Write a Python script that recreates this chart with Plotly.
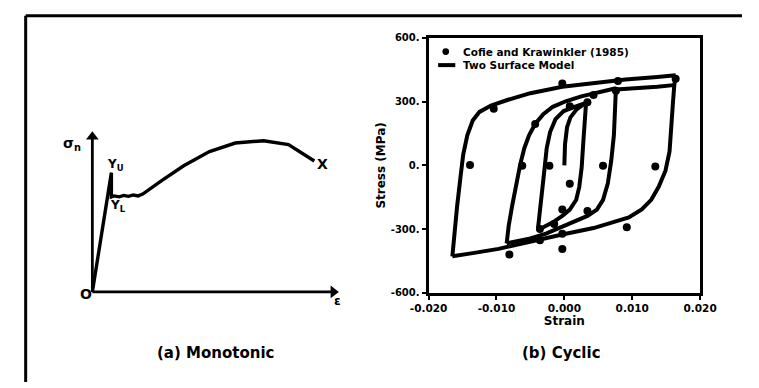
import plotly.graph_objects as go

W, H = 759, 388
FONT = "DejaVu Sans"

# ---------------- (a) Monotonic schematic (normalised strain / stress) ----------------
mono_strain = [0.0, 0.079, 0.079, 0.091, 0.111, 0.130, 0.150, 0.170, 0.190, 0.209,
               0.289, 0.379, 0.486, 0.593, 0.711, 0.814, 0.921]
mono_stress = [0.0, 0.769, 0.613, 0.619, 0.613, 0.622, 0.616, 0.625, 0.619, 0.631,
               0.719, 0.813, 0.905, 0.960, 0.975, 0.950, 0.844]
mono_labels = ["σ<sub>n</sub>", "Y<sub>U</sub>", "Y<sub>L</sub>", "O", "X", "ε"]

# ---------------- (b) Cyclic: Two Surface Model branches ----------------
init_strain = [0.0, 0.0001, 0.0004, 0.0009, 0.0018, 0.0032]
init_stress = [0, 100, 180, 226, 264, 296]

inner_down_strain = [0.0032, 0.0030, 0.0028, 0.00255, 0.0022, 0.00175, 0.0008, -0.0003, -0.0017, -0.0031, -0.0039]
inner_down_stress = [294, 218, 112, -10, -101, -162, -208, -238, -268, -291, -302]
inner_up_strain = [-0.0039, -0.0036, -0.0033, -0.0029, -0.0026, -0.0021, -0.0013, -0.0001, 0.0015, 0.0032]
inner_up_stress = [-302, -223, -132, -10, 81, 157, 218, 256, 276, 294]

mid_down_strain = [0.0076, 0.0075, 0.0073, 0.0069, 0.0064, 0.0057, 0.0048, 0.0034, 0.0015, -0.0003, -0.0027, -0.0050, -0.0069, -0.0085]
mid_down_stress = [363, 294, 142, 20, -86, -162, -208, -238, -265, -291, -321, -344, -356, -367]
mid_up_strain = [-0.0085, -0.0082, -0.0077, -0.0071, -0.0065, -0.0059, -0.0052, -0.0043, -0.0031, -0.0017, 0.0002, 0.0025, 0.0053, 0.0076]
mid_up_stress = [-367, -284, -192, -86, 5, 81, 142, 195, 241, 276, 302, 325, 344, 363]

ext_strain = [0.0076, 0.0104, 0.0137, 0.0161]
ext_stress = [358, 363, 370, 378]

outer_down_strain = [0.0164, 0.0162, 0.0160, 0.0158, 0.0155, 0.0149, 0.0139, 0.0128, 0.0114, 0.0095, 0.0071, 0.0043, -0.0003, -0.0050, -0.0097, -0.0135, -0.0165]
outer_down_stress = [424, 378, 294, 173, 66, -25, -101, -162, -207, -245, -268, -295, -325, -359, -393, -413, -428]
outer_up_strain = [-0.0165, -0.0162, -0.0158, -0.0153, -0.0149, -0.0143, -0.0135, -0.0125, -0.0108, -0.0083, -0.0050, -0.0003, 0.0043, 0.0090, 0.0137, 0.0164]
outer_up_stress = [-428, -314, -192, -55, 51, 142, 211, 252, 282, 309, 340, 370, 389, 404, 416, 424]

# ---------------- (b) Cyclic: Cofie and Krawinkler (1985) test points ----------------
test_strain = [-0.0139, -0.0104, -0.0003, 0.0079, 0.0164, 0.0134, 0.0092, -0.0003, -0.0003, -0.0081,
               -0.0043, -0.0062, 0.0057, 0.0034, -0.0036, 0.0034, 0.0076, -0.0022, 0.0008, -0.0003,
               -0.0015, -0.0036, 0.0008, 0.0043]
test_stress = [2, 267, 386, 397, 408, -5, -291, -393, -322, -420,
               195, -2, -2, -215, -352, 297, 352, -2, -86, -208,
               -276, -299, 279, 332]

xticks_b = [-0.02, -0.01, 0.0, 0.01, 0.02]
xtick_text_b = ["-0.020", "-0.010", "0.000", "0.010", "0.020"]
yticks_b = [600, 300, 0, -300, -600]
ytick_text_b = ["600.", "300.", "0.", "-300.", "-600."]

legend_names = ["Cofie and Krawinkler (1985)", "Two Surface Model"]
panel_titles = ["(a) Monotonic", "(b) Cyclic"]


def join(*branches):
    xs, ys = [], []
    for bx, by in branches:
        xs += list(bx) + [None]
        ys += list(by) + [None]
    return xs, ys


model_x, model_y = join((init_strain, init_stress),
                        (inner_down_strain, inner_down_stress),
                        (inner_up_strain, inner_up_stress),
                        (mid_up_strain, mid_up_stress),
                        (mid_down_strain, mid_down_stress),
                        (ext_strain, ext_stress),
                        (outer_down_strain, outer_down_stress),
                        (outer_up_strain, outer_up_stress))


def fx(p):  # page pixel x -> paper fraction
    return p / W


def fy(p):  # page pixel y -> paper fraction
    return 1 - p / H


fig = go.Figure()

# ---- panel (a) ----
fig.add_trace(go.Scatter(x=[0, 0, None, 0, 1.0], y=[0, 1.0, None, 0, 0], mode="lines",
                         line=dict(color="black", width=2.8), xaxis="x2", yaxis="y2",
                         showlegend=False, hoverinfo="skip"))
fig.add_trace(go.Scatter(x=[0, 1.0], y=[1.0, 0], mode="markers",
                         marker=dict(symbol=["triangle-up", "triangle-right"], size=11, color="black"),
                         xaxis="x2", yaxis="y2", showlegend=False, hoverinfo="skip", cliponaxis=False))
fig.add_trace(go.Scatter(x=mono_strain, y=mono_stress, mode="lines",
                         line=dict(color="black", width=3.4), xaxis="x2", yaxis="y2",
                         showlegend=False, hoverinfo="skip"))

# ---- panel (b) ----
fig.add_trace(go.Scatter(x=model_x, y=model_y, mode="lines", name=legend_names[1],
                         line=dict(color="black", width=4), connectgaps=False, showlegend=False))
fig.add_trace(go.Scatter(x=test_strain, y=test_stress, mode="markers", name=legend_names[0],
                         marker=dict(color="black", size=8), showlegend=False))

# pixel-based layout helpers
ax_l, ax_r, ax_t, ax_b = 430, 715, 33, 296
a_x0, a_x1, a_y0, a_y1 = 77, 330, 295, 135  # panel (a): origin and axis tips
a_dl, a_dr, a_dt, a_db = 20, 360, 100, 320
sx = a_x1 - a_x0
sy = a_y0 - a_y1

bold = dict(family=FONT, color="black", weight="bold")

fig.update_layout(
    width=W, height=H, margin=dict(l=0, r=0, t=0, b=0),
    paper_bgcolor="white", plot_bgcolor="white",
    font=dict(family=FONT, color="black"),
    showlegend=False,
    xaxis=dict(domain=[fx(ax_l), fx(ax_r)], range=[-0.02, 0.02],
               tickvals=xticks_b, ticktext=xtick_text_b, ticks="outside", ticklen=4, tickwidth=2,
               tickcolor="black", showline=True, linewidth=3, linecolor="black", mirror=True,
               showgrid=False, zeroline=False, tickfont=dict(size=10.5, **bold),
               title=dict(text="Strain", font=dict(size=12, **bold), standoff=4)),
    yaxis=dict(domain=[fy(ax_b), fy(ax_t)], range=[-600, 600],
               tickvals=yticks_b, ticktext=ytick_text_b, ticks="outside", ticklen=4, tickwidth=2,
               tickcolor="black", showline=True, linewidth=3, linecolor="black", mirror=True,
               showgrid=False, zeroline=False, tickfont=dict(size=10, **bold),
               title=dict(text="Stress (MPa)", font=dict(size=12, **bold), standoff=3)),
    xaxis2=dict(domain=[fx(a_dl), fx(a_dr)], anchor="y2",
                range=[(a_dl - a_x0) / sx, (a_dr - a_x0) / sx], visible=False),
    yaxis2=dict(domain=[fy(a_db), fy(a_dt)], anchor="x2",
                range=[(a_y0 - a_db) / sy, (a_y0 - a_dt) / sy], visible=False),
)

# frame lines (top and left)
fig.add_shape(type="line", xref="paper", yref="paper", x0=fx(7), x1=1, y0=fy(10), y1=fy(10),
              line=dict(color="black", width=3))
fig.add_shape(type="line", xref="paper", yref="paper", x0=fx(7), x1=fx(7), y0=0, y1=fy(10),
              line=dict(color="black", width=3))

# manual legend for panel (b)
fig.add_shape(type="circle", xref="paper", yref="paper",
              x0=fx(448 - 3.5), x1=fx(448 + 3.5), y0=fy(47 + 3.5), y1=fy(47 - 3.5),
              fillcolor="black", line=dict(color="black", width=0))
fig.add_shape(type="line", xref="paper", yref="paper", x0=fx(440), x1=fx(458),
              y0=fy(61), y1=fy(61), line=dict(color="black", width=4))
for name, yy in zip(legend_names, [47, 61]):
    fig.add_annotation(x=fx(464), y=fy(yy), xref="paper", yref="paper", text=name,
                       showarrow=False, xanchor="left", yanchor="middle",
                       font=dict(size=10.5, **bold))

# panel (a) labels, placed in page pixels
label_pos = [(56, 142, 14), (101, 164, 12), (104, 206, 12), (70, 297, 14), (319, 163, 14), (334, 304, 12)]
for txt, (px, py, s) in zip(mono_labels, label_pos):
    fig.add_annotation(x=fx(px), y=fy(py), xref="paper", yref="paper", text=txt, showarrow=False,
                       xanchor="center", yanchor="middle", font=dict(size=s, **bold))

for txt, px in zip(panel_titles, [206, 570]):
    fig.add_annotation(x=fx(px), y=fy(358), xref="paper", yref="paper", text=txt,
                       showarrow=False, xanchor="center", yanchor="middle", font=dict(size=15, **bold))

fig.write_html("out.html")
